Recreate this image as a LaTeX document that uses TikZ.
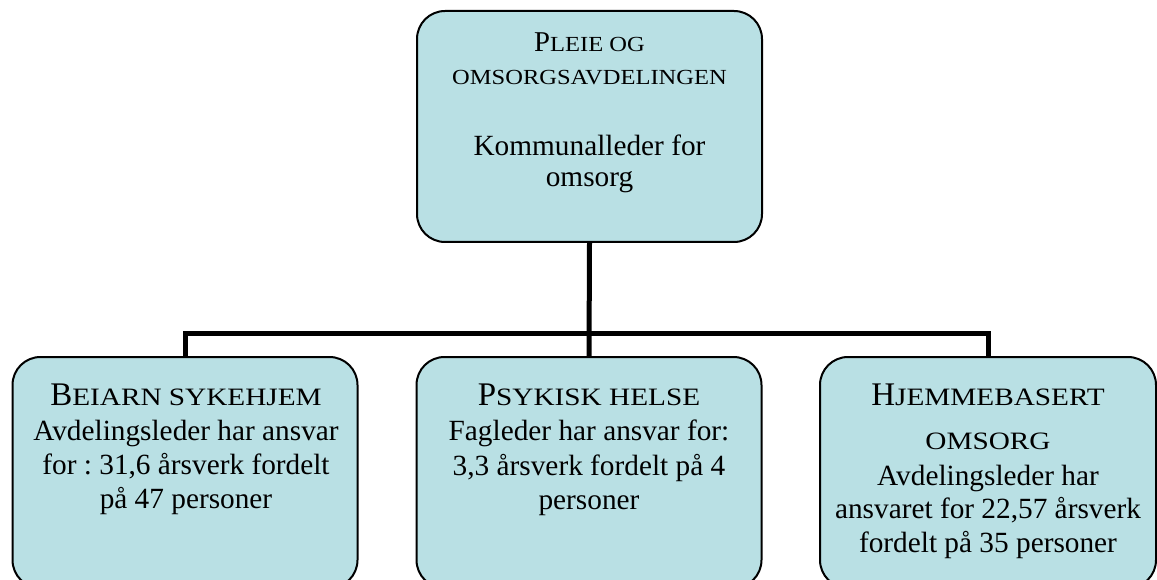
\documentclass[tikz,border=0pt]{standalone}
\usepackage{fontspec}
\setmainfont{Liberation Serif}
\usepackage{graphicx}
\definecolor{boxfill}{RGB}{185,224,228}
\newcommand\scA[1]{\scalebox{1.14}[1]{\fontsize{21.5}{26}\selectfont #1}}
\newcommand\scB[1]{\scalebox{1.17}[1]{\fontsize{25}{30}\selectfont #1}}
\newcommand\bigA{\fontsize{28.7}{34}\selectfont}
\newcommand\bigB{\fontsize{33}{40}\selectfont}
\newcommand\bodyfnt{\fontsize{29.3}{34}\selectfont}
\tikzset{
  unitbox/.style={draw=black, line width=2pt, fill=boxfill, rounded corners=28pt,
    minimum width=345pt, minimum height=231pt, inner sep=0pt},
  conn/.style={line width=5pt},
  ln/.style={anchor=base, inner sep=0pt, font=\bodyfnt}
}
\begin{document}
\frenchspacing
\begin{tikzpicture}[x=1pt,y=-1pt]
\useasboundingbox (0,0) rectangle (1157,580);
\clip (0,0) rectangle (1157,580);
% boxes
\node[unitbox] (top) at (589.5,126.5) {};
\node[unitbox] (b1) at (185,472.5) {};
\node[unitbox] (b2) at (589,472.5) {};
\node[unitbox, minimum width=336pt] (b3) at (988,472.5) {};
% connectors
\coordinate (hl) at (589.5,333);
\draw[conn] (top.south) -- (b2.north);
\draw[conn] (b1.north) -- (b1.north |- hl) -- (b3.north |- hl) -- (b3.north);
% top text
\node[ln] (t1) at (589.5,52) {{\bigA P}\scA{LEIE OG}};
\node[ln] (t2) at (589.5,85) {\scA{OMSORGSAVDELINGEN}};
\node[ln] (t3) at (589.5,156) {Kommunalleder for};
\node[ln] (t4) at (589.5,187) {omsorg};
% left box
\node[ln] (l1) at (186,405) {{\bigB B}\scB{EIARN SYKEHJEM}};
\node[ln] (l2) at (186,440) {Avdelingsleder har ansvar};
\node[ln] (l3) at (186,474) {for : 31,6 årsverk fordelt};
\node[ln] (l4) at (186,508) {på 47 personer};
% middle box
\node[ln] (m1) at (589,405) {{\bigB P}\scB{SYKISK HELSE}};
\node[ln] (m2) at (589,440) {Fagleder har ansvar for:};
\node[ln] (m3) at (589,475) {3,3 årsverk fordelt på 4};
\node[ln] (m4) at (589,509) {personer};
% right box
\node[ln] (r1) at (988,405) {{\bigB H}\scB{JEMMEBASERT}};
\node[ln] (r2) at (988,449) {\scB{OMSORG}};
\node[ln] (r3) at (988,485) {Avdelingsleder har};
\node[ln] (r4) at (988,518) {ansvaret for 22,57 årsverk};
\node[ln] (r5) at (988,552) {fordelt på 35 personer};
\end{tikzpicture}
\end{document}
